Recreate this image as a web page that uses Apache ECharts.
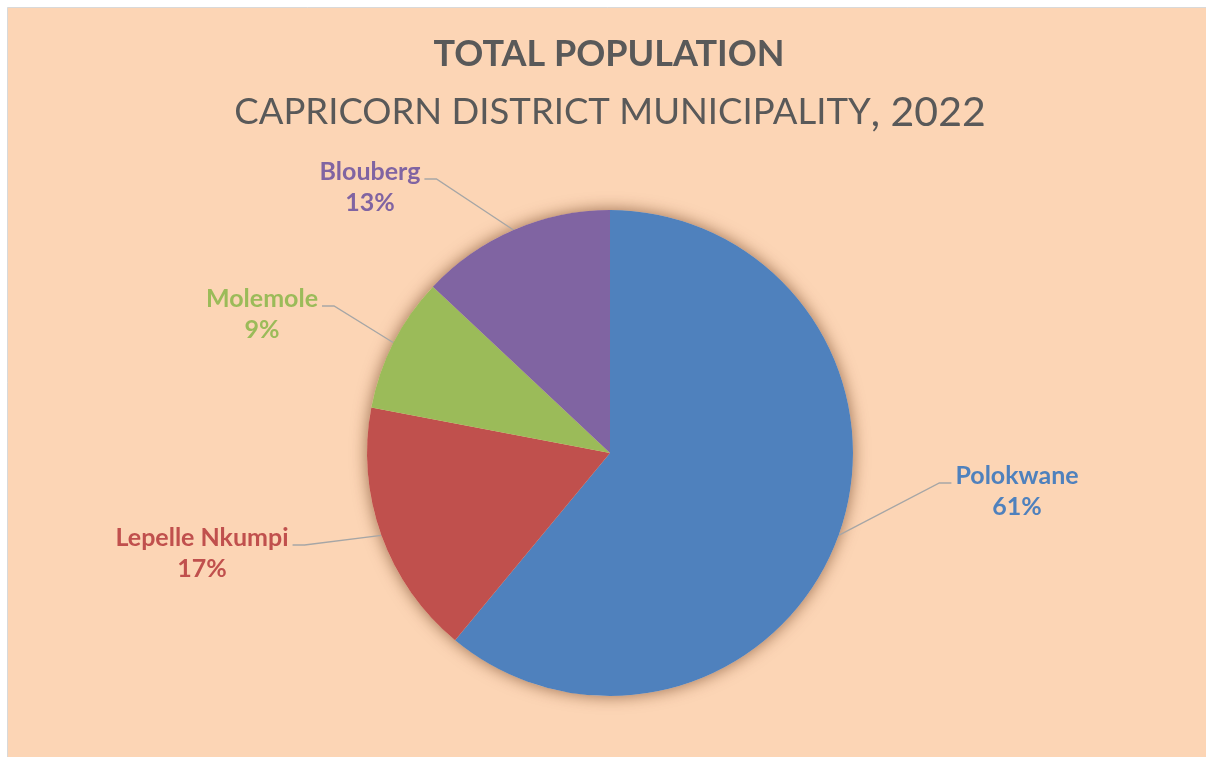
<!DOCTYPE html>
<html>
<head>
<meta charset="utf-8">
<script src="https://cdn.jsdelivr.net/npm/echarts@6/dist/echarts.min.js"></script>
<style>
html,body{margin:0;padding:0;background:#fff;overflow:hidden;}
#chart{width:1206px;height:757px;}
</style>
</head>
<body>
<div id="chart"></div>
<script>
// ---- data ----
const categories = ['Polokwane', 'Lepelle Nkumpi', 'Molemole', 'Blouberg'];
const shares = [61, 17, 9, 13];
const colors = ['#4F81BD', '#C0504D', '#9BBB59', '#8064A2'];
const titleText = 'TOTAL POPULATION';
const subtitleMain = 'CAPRICORN DISTRICT MUNICIPALITY';
const subtitleYear = ', 2022';

// ---- layout (label block centres, px) ----
const labelCentres = [[1017, 491], [202, 553], [262, 314], [370, 187]];
const labelSide = ['right', 'left', 'left', 'left'];

const chart = echarts.init(document.getElementById('chart'), null, {renderer: 'canvas'});
const FONT = 'Lato, "Open Sans", sans-serif';

const option = {
  backgroundColor: '#ffffff',
  animation: false,
  graphic: [{
    type: 'rect', z: -10, silent: true,
    shape: {x: 7.5, y: 7.5, width: 1220, height: 780},
    style: {fill: '#FCD5B5', stroke: '#D9D9D9', lineWidth: 1}
  }],
  title: [{
    text: titleText, left: 609, top: 36, padding: 0, textAlign: 'center',
    textStyle: {fontFamily: FONT, fontWeight: 'bold', fontSize: 36, color: '#595959'}
  }, {
    text: '{a|' + subtitleMain + '}{b|' + subtitleYear + '}', left: 610, top: 92, padding: 0, textAlign: 'center',
    textStyle: {
      rich: {
        a: {fontFamily: FONT, fontSize: 36.5, color: '#595959', fontWeight: 'normal'},
        b: {fontFamily: FONT, fontSize: 41, color: '#595959', fontWeight: 'normal'}
      }
    }
  }],
  series: [{
    type: 'pie', silent: true, z: 1,
    center: [610, 453], radius: 243,
    label: {show: false}, labelLine: {show: false},
    itemStyle: {color: '#FCD5B5', shadowBlur: 16, shadowColor: 'rgba(90,40,10,0.6)'},
    data: [{value: 1, name: 'bg'}]
  }, {
    type: 'pie', z: 2,
    center: [610, 453], radius: 243,
    startAngle: 90, clockwise: true,
    data: categories.map((c, i) => ({
      name: c, value: shares[i],
      itemStyle: {color: colors[i]},
      label: {color: colors[i]}
    })),
    label: {
      show: true, position: 'outside',
      formatter: '{b}\n{c}%',
      fontFamily: FONT, fontWeight: 'bold', fontSize: 25, lineHeight: 31,
      align: 'center'
    },
    labelLine: {show: true, length: 20, length2: 12, lineStyle: {color: '#A6A6A6', width: 1.3}},
    labelLayout: function (params) {
      const i = params.dataIndex;
      const c = labelCentres[i];
      const w = params.labelRect.width;
      const start = params.labelLinePoints ? params.labelLinePoints[0] : null;
      const ly = c[1] - 8;
      let endX, elbowX;
      if (labelSide[i] === 'right') { endX = c[0] - w / 2 - 4; elbowX = endX - 12; }
      else { endX = c[0] + w / 2 + 4; elbowX = endX + 12; }
      const out = {x: c[0], y: c[1], align: 'center', verticalAlign: 'middle'};
      if (start) out.labelLinePoints = [start, [elbowX, ly], [endX, ly]];
      return out;
    }
  }]
};
chart.setOption(option);
</script>
</body>
</html>
